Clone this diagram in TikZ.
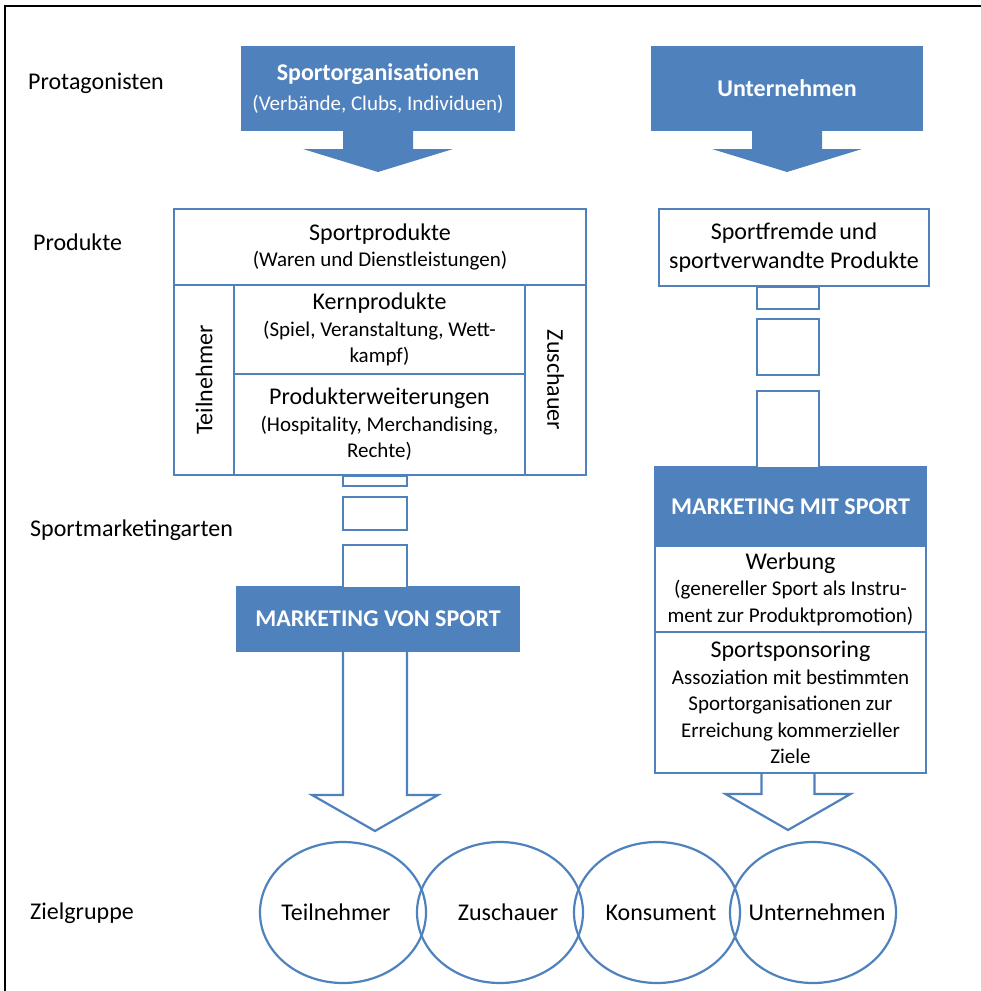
\documentclass[tikz,border=0pt]{standalone}
\usepackage{fontspec}
\setmainfont{Carlito}
\usetikzlibrary{calc,shapes.geometric}
\definecolor{office}{HTML}{4F81BD}
\newcommand{\mainsz}{\fontsize{24}{29}\selectfont}
\newcommand{\subsz}{\fontsize{21}{26.5}\selectfont}

\begin{document}
\begin{tikzpicture}[x=1pt,y=-1pt,
  bluebox/.style={fill=office,draw=office,line width=2,text=white,font=\mainsz\bfseries,align=center,inner sep=0},
  whitebox/.style={draw=office,line width=2.2,fill=white,align=center,inner sep=0,font=\subsz},
  stemseg/.style={draw=office,line width=2.2,fill=white},
  rowlabel/.style={font=\mainsz,anchor=west,inner sep=0},
  target/.style={ellipse,draw=office,line width=2.2,minimum width=166,minimum height=141,inner sep=0}]
  \useasboundingbox (0,0) rectangle (981,991);
  \draw[line width=2] (5,991) -- (5,6) -- (981,6);

  % row labels
  \node[rowlabel] (lprot) at (28,83) {Protagonisten};
  \node[rowlabel] (lprod) at (33,242) {Produkte};
  \node[rowlabel] (lart) at (30,530) {Sportmarketingarten};
  \node[rowlabel] (lziel) at (30,913) {Zielgruppe};

  % protagonists
  \node[bluebox,minimum width=272,minimum height=83] (sorg) at (378,88.5) {Sportorganisationen\\[1pt]{\subsz\mdseries (Verbände, Clubs, Individuen)}};
  \node[bluebox,minimum width=270,minimum height=83] (unt) at (787,88.5) {Unternehmen};
  \foreach \n in {sorg,unt} {
    \fill[office] ($(\n.south)+(-35,-1)$) -- ($(\n.south)+(-35,18)$) -- ($(\n.south)+(-75,18)$) -- ($(\n.south)+(0,41)$)
      -- ($(\n.south)+(75,18)$) -- ($(\n.south)+(35,18)$) -- ($(\n.south)+(35,-1)$) -- cycle;
  }

  % products, left side
  \node[whitebox,minimum width=412,minimum height=76] (sprod) at (380,247) {{\mainsz Sportprodukte}\\(Waren und Dienstleistungen)};
  \node[whitebox,rotate=90,minimum width=190,minimum height=60,font=\mainsz] (teil) at (204,380) {Teilnehmer};
  \node[whitebox,rotate=-90,minimum width=190,minimum height=61,font=\mainsz] (zusch) at (555.5,380) {Zuschauer};
  \node[whitebox,minimum width=291,minimum height=89] (kern) at (379.5,329.5) {{\mainsz Kernprodukte}\\(Spiel, Veranstaltung, Wett-\\kampf)};
  \node[whitebox,minimum width=291,minimum height=101] (erw) at (379.5,424.5) {{\mainsz Produkterweiterungen}\\(Hospitality, Merchandising,\\Rechte)};

  % products, right side
  \node[whitebox,font=\mainsz,minimum width=270,minimum height=77] (sfrem) at (794,247.5) {Sportfremde und\\sportverwandte Produkte};

  % marketing types
  \node[bluebox,minimum width=282,minimum height=64] (mvs) at (378,619) {MARKETING VON SPORT};
  \node[bluebox,minimum width=271,minimum height=79] (mms) at (790.5,506.5) {MARKETING MIT SPORT};
  \node[whitebox,minimum width=271,minimum height=86] (werb) at (790.5,589) {{\mainsz Werbung}\\(genereller Sport als Instru-\\ment zur Produktpromotion)};
  \node[whitebox,minimum width=271,minimum height=141] (spons) at (790.5,702.5) {{\mainsz Sportsponsoring}\\Assoziation mit bestimmten\\Sportorganisationen zur\\Erreichung kommerzieller\\Ziele};

  \coordinate (tipL) at (375,831);
  \coordinate (tipR) at (788,830);

  % broken stems
  \foreach \a/\b in {0/10, 21/54, 69/112}
    \draw[stemseg] ($(erw.south -| tipL)+(-32,\a)$) rectangle ($(erw.south -| tipL)+(32,\b)$);
  \foreach \a/\b in {0/22, 32/88, 104/181}
    \draw[stemseg] ($(sfrem.south -| tipR)+(-31,\a)$) rectangle ($(sfrem.south -| tipR)+(31,\b)$);

  % outline arrows to target groups
  \draw[stemseg] ($(mvs.south -| tipL)+(-32,0)$) -- ($(tipL)+(-32,-36)$) -- ($(tipL)+(-63,-36)$) -- (tipL)
    -- ($(tipL)+(63,-36)$) -- ($(tipL)+(32,-36)$) -- ($(mvs.south -| tipL)+(32,0)$);
  \draw[stemseg] ($(spons.south -| tipR)+(-26.5,0)$) -- ($(tipR)+(-26.5,-36)$) -- ($(tipR)+(-62.5,-36)$) -- (tipR)
    -- ($(tipR)+(62.5,-36)$) -- ($(tipR)+(26.5,-36)$) -- ($(spons.south -| tipR)+(26.5,0)$);

  % target groups
  \foreach \cx/\dx/\name/\txt in {343/-7/zteil/Teilnehmer, 500/8/zzus/Zuschauer, 657/4/zkon/Konsument, 813/4/zunt/Unternehmen} {
    \node[target] (\name) at (\cx,912.5) {};
    \node[font=\mainsz,inner sep=0] (\name txt) at ($(\name)+(\dx,0)$) {\txt};
  }
\end{tikzpicture}
\end{document}
